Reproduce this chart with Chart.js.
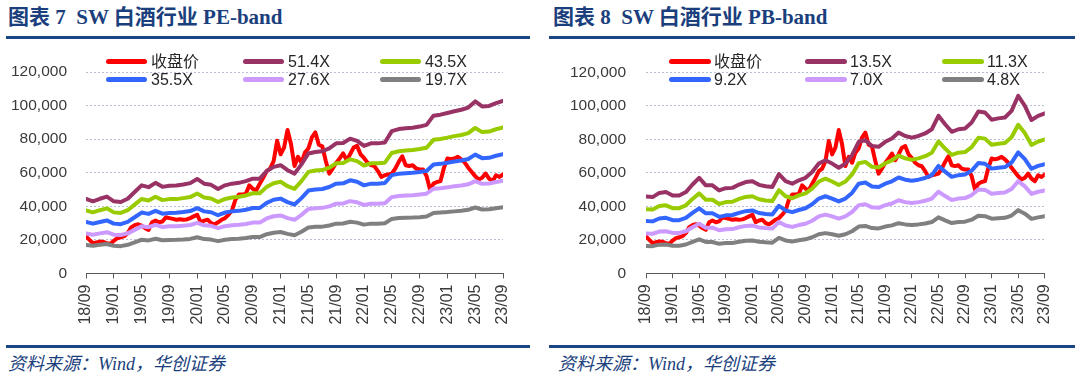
<!DOCTYPE html>
<html><head><meta charset="utf-8">
<script src="https://cdn.jsdelivr.net/npm/chart.js@4.4.0/dist/chart.umd.min.js"></script>
<style>
html,body{margin:0;padding:0;background:#fff;width:1080px;height:379px;overflow:hidden;position:relative;}
.abs{position:absolute;}
.title{font-weight:bold;font-size:21px;font-family:"Liberation Serif","Noto Sans CJK SC",serif;color:#1b3f7d;white-space:pre;line-height:24px;}
.rule{height:3px;background:#1b4585;}
.src{font-style:italic;font-size:18px;font-family:"Liberation Serif","Noto Sans CJK SC",serif;color:#1b3f7d;white-space:pre;line-height:20px;}
.lg-line{height:5px;border-radius:3px;}
.lg-text{font-size:16px;font-family:"Liberation Sans","Noto Sans CJK SC",sans-serif;color:#262626;line-height:18px;white-space:pre;}
canvas{position:absolute;}
</style></head><body>
<div class="abs title" style="left:8px;top:5px;">图表 7  SW 白酒行业 PE-band</div>
<div class="abs title" style="left:553px;top:5px;">图表 8  SW 白酒行业 PB-band</div>
<div class="abs rule" style="left:6px;top:36px;width:524px;"></div>
<div class="abs rule" style="left:549px;top:36px;width:526px;"></div>
<div class="abs rule" style="left:6px;top:345px;width:524px;"></div>
<div class="abs rule" style="left:549px;top:345px;width:526px;"></div>
<div class="abs src" style="left:8px;top:354px;">资料来源：Wind，华创证券</div>
<div class="abs src" style="left:558px;top:354px;">资料来源：Wind，华创证券</div>
<canvas id="pe" width="530" height="300" style="left:0px;top:40px;"></canvas>
<canvas id="pb" width="530" height="300" style="left:540px;top:40px;"></canvas>
<div id="legends"></div>
<script>
// ---- data (months since 2018/09) ----
const xTickLabels = ['18/09','19/01','19/05','19/09','20/01','20/05','20/09','21/01','21/05','21/09','22/01','22/05','22/09','23/01','23/05','23/09'];

// closing price index, semi-monthly samples
const closePrice = [22000,20000,18000,18500,19000,18800,18000,17600,19500,21000,
21500,22200,24000,27500,28800,29300,28500,27000,26000,30500,
31500,30500,31000,33500,33000,32500,32000,32300,32000,32200,
33000,34000,35000,30500,31500,32000,30000,29200,30500,32000,
33000,35000,37500,44000,47000,47000,47500,52500,50500,49500,
53500,57000,61000,62500,67000,79000,71000,75000,85500,77000,
64000,69500,66000,72000,74500,81000,84000,76700,75700,67000,
59500,62500,66000,68500,71500,67500,71000,75000,76000,71000,
68800,66000,64500,63900,61000,57500,58500,59000,59500,62500,
66500,69800,64500,64000,64500,62500,62000,61900,58000,50000,
53500,54500,55000,62900,68500,68000,68500,69500,68000,66000,
63000,60500,58000,56000,57000,59500,56500,55000,58500,57500,59000];

// PE bands, monthly samples
const pe514 = [44400,43000,44500,45800,43000,42600,44500,48500,52500,51400,54000,51600,52300,52400,53000,53800,56300,53500,52800,50300,52500,53500,54000,55000,56500,56500,61000,63500,64500,61500,59500,65000,71500,72400,72800,74500,77500,77700,80300,79000,76000,77500,77500,78000,84800,86000,86500,86800,87500,88500,94000,94600,95600,96600,97500,98800,102500,99500,99800,101500,102800];
const pe435 = [37600,36400,37700,38800,36400,36100,37700,41000,44400,43500,45700,43700,44300,44300,44900,45500,47600,45300,44700,42600,44400,45300,45700,46500,47800,47800,51600,53700,54600,52000,50400,55000,60500,61300,61600,63000,65600,65800,68000,66900,64300,65600,65600,66000,71800,72800,73200,73500,74100,74900,79600,80100,80900,81800,82500,83600,86700,84200,84500,85900,87000];
const pe355 = [30700,29700,30700,31600,29700,29400,30700,33500,36300,35500,37300,35600,36100,36200,36600,37200,38900,37000,36500,34700,36300,37000,37300,38000,39000,39000,42100,43900,44600,42500,41100,44900,49400,50000,50300,51500,53500,53700,55500,54600,52500,53500,53500,53900,58600,59400,59700,60000,60400,61100,64900,65300,66000,66700,67300,68200,70800,68700,68900,70100,71000];
const pe276 = [23800,23100,23900,24600,23100,22900,23900,26000,28200,27600,29000,27700,28100,28100,28500,28900,30200,28700,28400,27000,28200,28700,29000,29500,30300,30300,32800,34100,34600,33000,32000,34900,38400,38900,39100,40000,41600,41700,43100,42400,40800,41600,41600,41900,45500,46200,46500,46600,47000,47500,50500,50800,51300,51900,52400,53100,55000,53400,53600,54500,55200];
const pe197 = [17000,16500,17100,17600,16500,16300,17100,18600,20100,19700,20700,19800,20000,20100,20300,20600,21600,20500,20200,19300,20100,20500,20700,21100,21700,21700,23400,24300,24700,23600,22800,24900,27400,27800,27900,28600,29700,29800,30800,30300,29100,29700,29700,29900,32500,33000,33200,33300,33500,33900,36000,36300,36600,37000,37400,37900,39300,38100,38300,38900,39400];

// PB bands, monthly samples
const pb135 = [45800,45500,48000,48500,46500,46500,48500,53000,57000,52500,52500,49500,50800,51000,53000,54500,55000,52800,52000,51500,59200,55000,53500,55500,57000,60500,65500,67500,65500,63000,65500,70500,78500,79500,76000,75500,78500,80500,84000,82000,81000,82000,83500,86000,94000,89000,84500,86000,86500,90000,96600,96000,91700,92500,93000,97000,106000,100000,91500,94000,95500];
const pb113 = [38300,38100,40200,40600,38900,38900,40600,44400,47700,43900,43900,41400,42500,42700,44400,45600,46000,44200,43500,43100,49600,46000,44800,46500,47700,50600,54800,56500,54800,52700,54800,59000,65700,66500,63600,63200,65700,67400,70300,68600,67800,68600,69900,72000,78700,74500,70700,72000,72400,75300,80900,80400,76800,77400,77800,81200,88700,83700,76600,78700,79900];
const pb92 = [31200,31000,32700,33100,31700,31700,33100,36100,38800,35800,35800,33700,34600,34800,36100,37100,37500,36000,35400,35100,40300,37500,36500,37800,38800,41200,44600,46000,44600,42900,44600,48000,53500,54200,51800,51500,53500,54900,57200,55900,55200,55900,56900,58600,64100,60700,57600,58600,59000,61300,65800,65400,62500,63000,63400,66100,72200,68200,62400,64100,65100];
const pb70 = [23700,23600,24900,25100,24100,24100,25100,27500,29600,27200,27200,25700,26300,26400,27500,28300,28500,27400,27000,26700,30700,28500,27700,28800,29600,31400,34000,35000,34000,32700,34000,36600,40700,41200,39400,39100,40700,41700,43600,42500,42000,42500,43300,44600,48700,46100,43800,44600,44900,46700,50100,49800,47500,48000,48200,50300,55000,51900,47400,48700,49500];
const pb48 = [16300,16200,17100,17200,16500,16500,17200,18800,20300,18700,18700,17600,18100,18100,18800,19400,19600,18800,18500,18300,21100,19600,19000,19700,20300,21500,23300,24000,23300,22400,23300,25100,27900,28300,27000,26800,27900,28600,29900,29200,28800,29200,29700,30600,33400,31600,30000,30600,30800,32000,34400,34100,32600,32900,33100,34500,37700,35600,32500,33400,34000];

const peNames = ['收盘价','51.4X','43.5X','35.5X','27.6X','19.7X'];
const pbNames = ['收盘价','13.5X','11.3X','9.2X','7.0X','4.8X'];
const seriesColors = ['#FF0000','#993366','#99CC00','#3366FF','#CC99FF','#808080'];

// ---- drawing ----
Chart.defaults.font.family = '"Liberation Sans", Arial, sans-serif';
Chart.defaults.color = '#3a3a3a';

function pts(arr, step){ return arr.map((v,i)=>({x:i*step, y:v})); }

function makeChart(id, bands, names, geom){
  const datasets = [];
  const all = [closePrice].concat(bands);
  all.forEach((arr, k) => {
    datasets.push({
      label: names[k],
      data: pts(arr, k === 0 ? 0.5 : 1),
      borderColor: seriesColors[k],
      backgroundColor: seriesColors[k],
      borderWidth: 4,
      pointRadius: 0,
      tension: 0,
      fill: false,
      borderJoinStyle: 'round',
      borderCapStyle: 'round',
      order: 6 - k
    });
  });
  return new Chart(document.getElementById(id), {
    type: 'line',
    data: { datasets },
    options: {
      responsive: false,
      animation: false,
      devicePixelRatio: 1,
      layout: { padding: { left: 0, top: geom.top, right: geom.right, bottom: 0 } },
      plugins: { legend: { display: false }, tooltip: { enabled: false } },
      scales: {
        x: {
          type: 'linear', min: 0, max: 60,
          ticks: { stepSize: 4, autoSkip: false, minRotation: 90, maxRotation: 90, padding: 6,
                   font: { size: 16 }, color: '#3a3a3a',
                   callback: (v) => { const t = xTickLabels[v / 4]; return t === undefined ? null : t; } },
          grid: { drawOnChartArea: false, drawTicks: true, tickLength: 5, tickColor: '#595959', color: '#595959' },
          border: { display: true, color: '#595959', width: 1 },
          afterFit: (a) => { a.height = geom.xh; }
        },
        y: {
          min: 0, max: 120000,
          ticks: { stepSize: 20000, padding: geom.ylp, font: { size: 15.5 }, color: '#3a3a3a',
                   callback: (v) => v.toLocaleString('en-US') },
          grid: { color: '#b7c0d2', lineWidth: 1, drawTicks: false },
          border: { display: false, dash: [2, 2] },
          afterFit: (a) => { a.width = geom.yw; }
        }
      }
    }
  });
}

makeChart('pe', [pe514, pe435, pe355, pe276, pe197], peNames, { top: 32, right: 27, xh: 66.5, yw: 86, ylp: 19 });
makeChart('pb', [pb135, pb113, pb92, pb70, pb48], pbNames, { top: 32.3, right: 20.5, xh: 66.7, yw: 106, ylp: 20 });

// HTML legends (3 columns x 2 rows, inside plot area)
function legend(names, colX, lineW, textOff){
  const rows = [61.5, 79.5];
  const host = document.getElementById('legends');
  names.forEach((n, k) => {
    const col = k % 3, row = Math.floor(k / 3);
    const ln = document.createElement('div');
    ln.className = 'abs lg-line';
    ln.style.left = colX[col] + 'px';
    ln.style.top = (rows[row] - 2.5) + 'px';
    ln.style.width = lineW + 'px';
    ln.style.background = seriesColors[k];
    host.appendChild(ln);
    const tx = document.createElement('div');
    tx.className = 'abs lg-text';
    tx.style.left = (colX[col] + textOff) + 'px';
    tx.style.top = (rows[row] - 9) + 'px';
    tx.textContent = n;
    host.appendChild(tx);
  });
}
legend(peNames, [106, 243, 380], 41, 45);
legend(pbNames, [669, 805, 942], 42, 45);
</script>
</body></html>
